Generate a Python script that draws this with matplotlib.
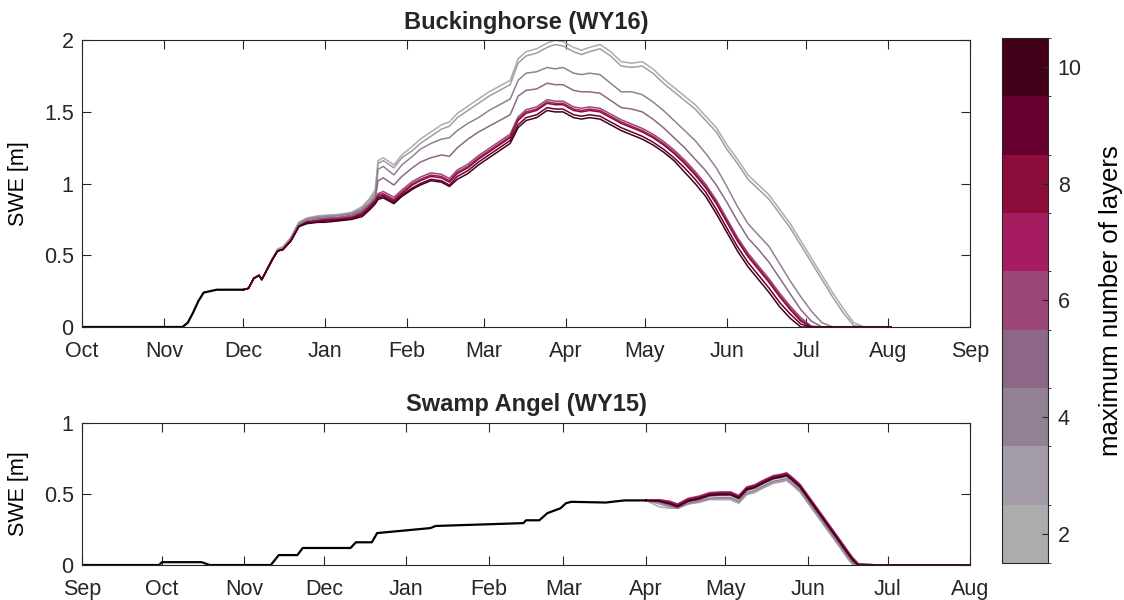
import numpy as np
import matplotlib
matplotlib.use('Agg')
import matplotlib as mpl
import matplotlib.pyplot as plt
import matplotlib.dates as mdates
from matplotlib.colors import ListedColormap, BoundaryNorm

plt.rcParams['font.family'] = ['Liberation Sans', 'DejaVu Sans']
plt.rcParams['text.color'] = '#262626'
plt.rcParams['axes.edgecolor'] = '#262626'
plt.rcParams['xtick.color'] = '#262626'
plt.rcParams['ytick.color'] = '#262626'

# layer counts and their colours (2 .. 10)
layers = [2, 3, 4, 5, 6, 7, 8, 9, 10]
layer_colors = ['#acacac', '#a39ba7', '#928094', '#8d6787', '#9b4878',
                '#a51d60', '#8c0d3b', '#660031', '#43001a']

# ---- Buckinghorse WY16: days since 1 Oct 2015 ----
bh_start = np.datetime64('2015-10-01')
bh_early_day = [0, 38, 40, 42, 44, 46, 51, 61]
bh_early_swe = [0, 0, 0.03, 0.10, 0.18, 0.24, 0.26, 0.26]

bh_day = [61, 63, 65, 67, 68, 70, 72, 74, 76, 79,
          82, 85, 89, 92, 97, 102, 106, 109, 111, 112,
          114, 118, 121, 125, 128, 132, 136, 139, 142, 146,
          150, 154, 158, 162, 165, 168, 172, 176, 179, 182,
          186, 189, 192, 196, 200, 204, 208, 212, 216, 220,
          224, 228, 232, 236, 240, 244, 248, 252, 256, 260,
          264, 268, 272, 276, 280, 284, 288, 292, 296, 306]

bh_swe_2 = [0.26, 0.27, 0.34, 0.36, 0.33, 0.405, 0.48, 0.545, 0.56, 0.625,
            0.73, 0.76, 0.775, 0.78, 0.785, 0.80, 0.84, 0.90, 0.96, 1.16,
            1.18, 1.13, 1.20, 1.26, 1.31, 1.36, 1.41, 1.43, 1.49, 1.54,
            1.59, 1.64, 1.68, 1.72, 1.87, 1.92, 1.94, 1.98, 2.00, 1.99,
            1.95, 1.93, 1.95, 1.97, 1.92, 1.85, 1.84, 1.85, 1.80, 1.73,
            1.67, 1.61, 1.55, 1.47, 1.39, 1.27, 1.17, 1.06, 0.99, 0.92,
            0.82, 0.72, 0.60, 0.48, 0.36, 0.24, 0.13, 0.03, 0, 0]
bh_swe_3 = [0.26, 0.27, 0.34, 0.36, 0.33, 0.405, 0.475, 0.54, 0.555, 0.62,
            0.725, 0.755, 0.77, 0.775, 0.78, 0.795, 0.83, 0.89, 0.94, 1.14,
            1.16, 1.11, 1.18, 1.23, 1.28, 1.33, 1.38, 1.40, 1.46, 1.51,
            1.56, 1.61, 1.65, 1.69, 1.84, 1.89, 1.91, 1.95, 1.97, 1.96,
            1.92, 1.90, 1.92, 1.94, 1.89, 1.82, 1.81, 1.82, 1.77, 1.70,
            1.64, 1.58, 1.52, 1.44, 1.36, 1.24, 1.14, 1.03, 0.96, 0.89,
            0.79, 0.69, 0.57, 0.45, 0.33, 0.21, 0.10, 0.01, 0, 0]
bh_swe_4 = [0.26, 0.27, 0.34, 0.36, 0.33, 0.40, 0.47, 0.535, 0.55, 0.615,
            0.72, 0.75, 0.765, 0.77, 0.775, 0.79, 0.82, 0.87, 0.92, 1.10,
            1.12, 1.06, 1.13, 1.19, 1.24, 1.28, 1.31, 1.32, 1.37, 1.42,
            1.46, 1.51, 1.55, 1.59, 1.72, 1.77, 1.78, 1.81, 1.80, 1.81,
            1.77, 1.76, 1.77, 1.76, 1.70, 1.64, 1.64, 1.62, 1.57, 1.51,
            1.44, 1.37, 1.30, 1.21, 1.11, 0.98, 0.84, 0.72, 0.64, 0.56,
            0.44, 0.32, 0.21, 0.11, 0.03, 0, 0, 0, 0, 0]
bh_swe_5 = [0.26, 0.27, 0.34, 0.36, 0.33, 0.40, 0.47, 0.53, 0.545, 0.61,
            0.71, 0.74, 0.755, 0.76, 0.765, 0.78, 0.81, 0.86, 0.90, 1.02,
            1.04, 0.99, 1.05, 1.11, 1.15, 1.18, 1.20, 1.19, 1.25, 1.31,
            1.36, 1.40, 1.44, 1.48, 1.61, 1.65, 1.66, 1.70, 1.69, 1.69,
            1.65, 1.64, 1.64, 1.63, 1.58, 1.53, 1.52, 1.50, 1.45, 1.39,
            1.32, 1.25, 1.17, 1.09, 0.99, 0.87, 0.74, 0.62, 0.54, 0.45,
            0.34, 0.23, 0.12, 0.04, 0, 0, 0, 0, 0, 0]
bh_swe_6 = [0.26, 0.27, 0.34, 0.36, 0.33, 0.40, 0.47, 0.53, 0.54, 0.60,
            0.70, 0.73, 0.745, 0.755, 0.76, 0.77, 0.80, 0.85, 0.89, 0.93,
            0.945, 0.905, 0.955, 1.015, 1.045, 1.075, 1.065, 1.035, 1.095, 1.135,
            1.195, 1.245, 1.295, 1.345, 1.465, 1.515, 1.535, 1.585, 1.575, 1.575,
            1.535, 1.525, 1.535, 1.525, 1.485, 1.445, 1.415, 1.385, 1.345, 1.295,
            1.235, 1.165, 1.085, 0.995, 0.885, 0.755, 0.625, 0.515, 0.425, 0.335,
            0.235, 0.145, 0.065, 0.005, 0, 0, 0, 0, 0, 0]
bh_swe_7 = [0.26, 0.27, 0.34, 0.36, 0.33, 0.40, 0.47, 0.53, 0.54, 0.60,
            0.70, 0.73, 0.74, 0.75, 0.755, 0.765, 0.795, 0.845, 0.885, 0.92,
            0.93, 0.89, 0.94, 1.00, 1.03, 1.06, 1.05, 1.02, 1.08, 1.12,
            1.18, 1.23, 1.28, 1.33, 1.45, 1.50, 1.52, 1.57, 1.56, 1.56,
            1.52, 1.51, 1.52, 1.51, 1.47, 1.43, 1.40, 1.37, 1.33, 1.28,
            1.22, 1.15, 1.07, 0.98, 0.87, 0.74, 0.61, 0.50, 0.41, 0.32,
            0.22, 0.13, 0.05, 0, 0, 0, 0, 0, 0, 0]
bh_swe_8 = [0.26, 0.27, 0.34, 0.36, 0.33, 0.40, 0.47, 0.53, 0.54, 0.60,
            0.70, 0.73, 0.74, 0.745, 0.75, 0.76, 0.79, 0.84, 0.88, 0.91,
            0.92, 0.88, 0.93, 0.99, 1.02, 1.05, 1.04, 1.01, 1.07, 1.11,
            1.17, 1.22, 1.27, 1.32, 1.44, 1.49, 1.51, 1.56, 1.55, 1.55,
            1.51, 1.50, 1.51, 1.50, 1.46, 1.42, 1.39, 1.36, 1.32, 1.27,
            1.21, 1.14, 1.06, 0.97, 0.86, 0.73, 0.60, 0.49, 0.40, 0.31,
            0.21, 0.12, 0.04, 0, 0, 0, 0, 0, 0, 0]
bh_swe_9 = [0.26, 0.27, 0.34, 0.36, 0.33, 0.40, 0.47, 0.53, 0.54, 0.60,
            0.70, 0.73, 0.73, 0.74, 0.745, 0.755, 0.78, 0.83, 0.87, 0.90,
            0.91, 0.87, 0.92, 0.97, 1.00, 1.03, 1.02, 0.99, 1.05, 1.09,
            1.15, 1.20, 1.25, 1.30, 1.41, 1.46, 1.48, 1.53, 1.52, 1.52,
            1.48, 1.47, 1.48, 1.47, 1.43, 1.39, 1.36, 1.33, 1.29, 1.24,
            1.18, 1.11, 1.03, 0.94, 0.82, 0.69, 0.56, 0.45, 0.36, 0.27,
            0.17, 0.09, 0.02, 0, 0, 0, 0, 0, 0, 0]
bh_swe_10 = [0.26, 0.27, 0.34, 0.36, 0.33, 0.40, 0.47, 0.53, 0.54, 0.60,
             0.70, 0.72, 0.73, 0.73, 0.74, 0.75, 0.77, 0.82, 0.86, 0.89,
             0.90, 0.86, 0.91, 0.96, 0.99, 1.02, 1.01, 0.98, 1.03, 1.07,
             1.13, 1.18, 1.23, 1.28, 1.39, 1.44, 1.46, 1.51, 1.50, 1.50,
             1.46, 1.45, 1.46, 1.45, 1.41, 1.37, 1.34, 1.31, 1.27, 1.22,
             1.16, 1.08, 1.00, 0.91, 0.79, 0.66, 0.53, 0.42, 0.33, 0.24,
             0.14, 0.06, 0, 0, 0, 0, 0, 0, 0, 0]

# ---- Swamp Angel WY15: days since 1 Sep 2014 ----
sa_start = np.datetime64('2014-09-01')
sa_early_day = [0, 29, 30, 45, 48, 71, 74, 81, 83, 101, 103, 109, 111,
                131, 133, 166, 167, 172, 175, 180, 182, 184, 197, 204, 212]
sa_early_swe = [0, 0, 0.02, 0.02, 0, 0, 0.07, 0.07, 0.12, 0.12, 0.16, 0.16, 0.225,
                0.26, 0.275, 0.295, 0.315, 0.315, 0.365, 0.40, 0.435, 0.445, 0.44, 0.455, 0.455]

sa_day = [212, 217, 221, 224, 228, 232, 236, 240, 244, 247, 250, 253, 256,
          260, 263, 265, 267, 270, 275, 280, 285, 288, 290, 292, 300, 334]

sa_swe_2 = [0.455, 0.41, 0.40, 0.40, 0.43, 0.44, 0.46, 0.46, 0.46, 0.435, 0.495, 0.51, 0.54,
            0.575, 0.585, 0.595, 0.565, 0.515, 0.385, 0.255, 0.125, 0.045, 0, 0, 0, 0]
sa_swe_3 = [0.455, 0.43, 0.41, 0.40, 0.43, 0.445, 0.465, 0.47, 0.465, 0.44, 0.50, 0.515, 0.545,
            0.58, 0.59, 0.60, 0.57, 0.52, 0.39, 0.26, 0.13, 0.05, 0.005, 0, 0, 0]
sa_swe_4 = [0.455, 0.44, 0.415, 0.40, 0.435, 0.45, 0.47, 0.475, 0.475, 0.45, 0.51, 0.525, 0.555,
            0.59, 0.60, 0.61, 0.58, 0.53, 0.40, 0.27, 0.14, 0.06, 0.01, 0, 0, 0]
sa_swe_5 = [0.455, 0.445, 0.425, 0.405, 0.445, 0.46, 0.485, 0.49, 0.49, 0.465, 0.525, 0.54, 0.57,
            0.605, 0.615, 0.625, 0.595, 0.545, 0.415, 0.285, 0.155, 0.075, 0.025, 0, 0, 0]
sa_swe_6 = [0.455, 0.46, 0.45, 0.43, 0.47, 0.485, 0.51, 0.515, 0.515, 0.49, 0.55, 0.565, 0.595,
            0.63, 0.64, 0.65, 0.62, 0.57, 0.44, 0.31, 0.18, 0.10, 0.05, 0.01, 0, 0]
sa_swe_7 = [0.455, 0.458, 0.445, 0.425, 0.465, 0.48, 0.505, 0.51, 0.51, 0.485, 0.545, 0.56, 0.59,
            0.625, 0.635, 0.645, 0.615, 0.565, 0.435, 0.305, 0.175, 0.095, 0.045, 0.005, 0, 0]
sa_swe_8 = [0.455, 0.455, 0.44, 0.42, 0.46, 0.475, 0.50, 0.505, 0.505, 0.48, 0.54, 0.555, 0.585,
            0.62, 0.63, 0.64, 0.61, 0.56, 0.43, 0.30, 0.17, 0.09, 0.04, 0, 0, 0]
sa_swe_9 = [0.455, 0.452, 0.435, 0.415, 0.455, 0.47, 0.495, 0.50, 0.50, 0.475, 0.535, 0.55, 0.58,
            0.615, 0.625, 0.635, 0.605, 0.555, 0.425, 0.295, 0.165, 0.085, 0.035, 0, 0, 0]
sa_swe_10 = [0.455, 0.45, 0.43, 0.41, 0.45, 0.465, 0.49, 0.495, 0.495, 0.47, 0.53, 0.545, 0.575,
             0.61, 0.62, 0.63, 0.60, 0.55, 0.42, 0.29, 0.16, 0.08, 0.03, 0, 0, 0]

bh_runs = [bh_swe_2, bh_swe_3, bh_swe_4, bh_swe_5, bh_swe_6,
           bh_swe_7, bh_swe_8, bh_swe_9, bh_swe_10]
sa_runs = [sa_swe_2, sa_swe_3, sa_swe_4, sa_swe_5, sa_swe_6,
           sa_swe_7, sa_swe_8, sa_swe_9, sa_swe_10]


def to_dates(start, days):
    return start + np.array(days).astype('timedelta64[D]')


def style_axes(ax, x0, x1, ymax, yticks, yticklabels):
    ax.set_xlim(x0, x1)
    ax.set_ylim(0, ymax)
    ax.xaxis.set_major_locator(mdates.MonthLocator())
    ax.xaxis.set_major_formatter(mdates.DateFormatter('%b'))
    ax.set_yticks(yticks)
    ax.set_yticklabels(yticklabels)
    ax.tick_params(direction='in', length=6.4, width=0.8, labelsize=15.5,
                   top=True, right=True)
    ax.tick_params(axis='x', pad=10)
    ax.tick_params(axis='y', pad=6)
    for s in ax.spines.values():
        s.set_linewidth(0.8)
    ax.set_ylabel('SWE [m]', fontsize=15.5)
    ax.yaxis.set_label_coords(-0.06, 0.5)


fig = plt.figure(figsize=(11.24, 6.0), dpi=100)

ax1 = fig.add_axes([0.073, 0.455, 0.790, 0.478])
for vals, c in zip(bh_runs, layer_colors):
    ax1.plot(to_dates(bh_start, bh_day), vals, color=c, lw=1.1)
ax1.plot(to_dates(bh_start, bh_early_day), bh_early_swe, color='black', lw=1.6)
style_axes(ax1, np.datetime64('2015-10-01'), np.datetime64('2016-09-01'),
           2, [0, 0.5, 1, 1.5, 2], ['0', '0.5', '1', '1.5', '2'])
ax1.set_title('Buckinghorse (WY16)', fontsize=17, fontweight='bold', pad=8)

ax2 = fig.add_axes([0.073, 0.0583, 0.790, 0.2367])
for vals, c in zip(sa_runs, layer_colors):
    ax2.plot(to_dates(sa_start, sa_day), vals, color=c, lw=1.1)
ax2.plot(to_dates(sa_start, sa_early_day), sa_early_swe, color='black', lw=1.6)
style_axes(ax2, np.datetime64('2014-09-01'), np.datetime64('2015-08-01'),
           1, [0, 0.5, 1], ['0', '0.5', '1'])
ax2.set_title('Swamp Angel (WY15)', fontsize=17, fontweight='bold', pad=9)

# discrete colour bar for the number of layers
cax = fig.add_axes([0.8915, 0.0617, 0.041, 0.875])
cmap = ListedColormap(layer_colors)
norm = BoundaryNorm(np.arange(1.5, 11.5, 1), cmap.N)
cb = mpl.colorbar.ColorbarBase(cax, cmap=cmap, norm=norm, ticks=[2, 4, 6, 8, 10])
cb.outline.set_linewidth(0.8)
cax.tick_params(direction='in', length=4, width=0.8, labelsize=15.5, pad=7)
cb.set_label('maximum number of layers', fontsize=18.5, labelpad=12)

fig.savefig('out.png', dpi=100)
